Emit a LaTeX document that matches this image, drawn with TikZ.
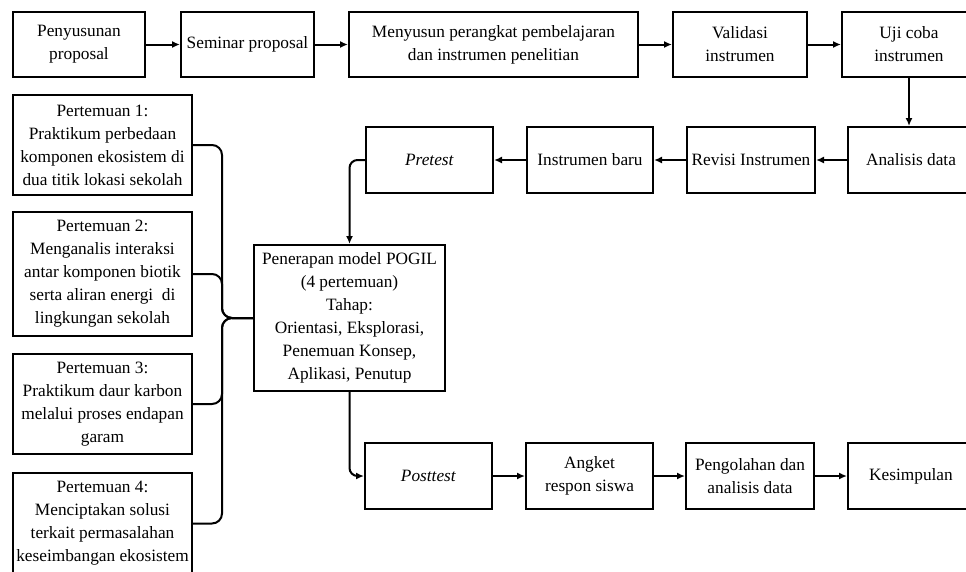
\documentclass[tikz,border=0pt]{standalone}
\usepackage{fontspec}
\setmainfont{Liberation Serif}
\usetikzlibrary{arrows.meta}

\begin{document}
\begin{tikzpicture}[x=1pt,y=-1pt,
			>={Latex[length=8pt,width=7pt]},
			every node/.style={
				draw,
				line width=2pt,
				align=center,
				inner sep=0pt,
				font=\fontsize{17.3}{23}\selectfont
			},
			boxsize/.style 2 args={minimum width=#1pt,minimum height=#2pt},
			link/.style={->,line width=2pt}]
			
			\useasboundingbox (0,0) rectangle (966,571);
			
			% baris atas
			\node(proposal)[boxsize={132}{65}] at (79,44.5){Penyusunan\\proposal};
			
			\node(seminar)[boxsize={133}{65}] at (247.5,44.5){Seminar proposal};
			
			\node(perangkat)[boxsize={289}{65}] at (493.5,44.5){Menyusun perangkat pembelajaran\\dan instrumen penelitian};
			
			\node(validasi)[boxsize={134}{65}] at (740,44.5){Validasi\\instrumen};
			
			\node(ujicoba)[boxsize={134}{65}] at (909,44.5){Uji coba\\instrumen};
			
			% baris kedua
			\node(analisis)[boxsize={126}{66}] at (911,160){Analisis data};
			
			\node(revisi)[boxsize={128}{66}] at (751,160){Revisi Instrumen};
			
			\node(baru)[boxsize={126}{66}] at (590,160){Instrumen baru};
			
			\node(pretest)[boxsize={127}{66}] at (429.5,160){\textit{Pretest}};
			
			% pertemuan
			\node(p1)[boxsize={179}{100}] at (102.5,145){Pertemuan 1:\\Praktikum perbedaan\\komponen ekosistem di\\dua titik lokasi sekolah};
			
			\node(p2)[boxsize={179}{124}] at (102.5,274){Pertemuan 2:\\Menganalis interaksi\\antar komponen biotik\\serta aliran energi~ di\\lingkungan sekolah};
			
			\node(p3)[boxsize={179}{100}] at (102.5,404){Pertemuan 3:\\Praktikum daur karbon\\melalui proses endapan\\garam};
			
			\node(p4)[boxsize={179}{101}] at (102.5,523.5){Pertemuan 4:\\Menciptakan solusi\\terkait permasalahan\\keseimbangan ekosistem};
			
			\node(pogil)[boxsize={191}{146}] at (349.5,318){Penerapan model POGIL\\(4 pertemuan)\\Tahap:\\Orientasi, Eksplorasi,\\Penemuan Konsep,\\Aplikasi, Penutup};
			
			% baris bawah
			\node(posttest)[boxsize={127}{66}] at (428.5,476){\textit{Posttest}};
			
			\node(angket)[boxsize={127}{66}] at (589.5,476){Angket\\respon siswa};
			
			\node(olah)[boxsize={128}{66}] at (750,476){Pengolahan dan\\analisis data};
			
			\node(simpulan)[boxsize={126}{66}] at (911,476){Kesimpulan};
			
			\coordinate(kurung) at (222,318);
			
			\draw[link](proposal)--(seminar);
			
			\draw[link](seminar)--(perangkat);
			
			\draw[link](perangkat)--(validasi);
			
			\draw[link](validasi)--(ujicoba);
			
			\draw[link](ujicoba.south)--(ujicoba.south |- analisis.north);
			
			\draw[link](analisis)--(revisi);
			
			\draw[link](revisi)--(baru);
			
			\draw[link](baru)--(pretest);
			
			\draw[link,rounded corners=8pt](pretest.west)-|(pogil.north);
			
			\draw[link,rounded corners=8pt](pogil.south)|-(posttest.west);
			
			\draw[link](posttest)--(angket);
			
			\draw[link](angket)--(olah);
			
			\draw[link](olah)--(simpulan);
			
			\foreach \p in {p1,p2,p3,p4}
				\draw[line width=2pt,rounded corners=10pt](\p.east)-|(kurung)--(pogil.west);
			
		\end{tikzpicture}
\end{document}
